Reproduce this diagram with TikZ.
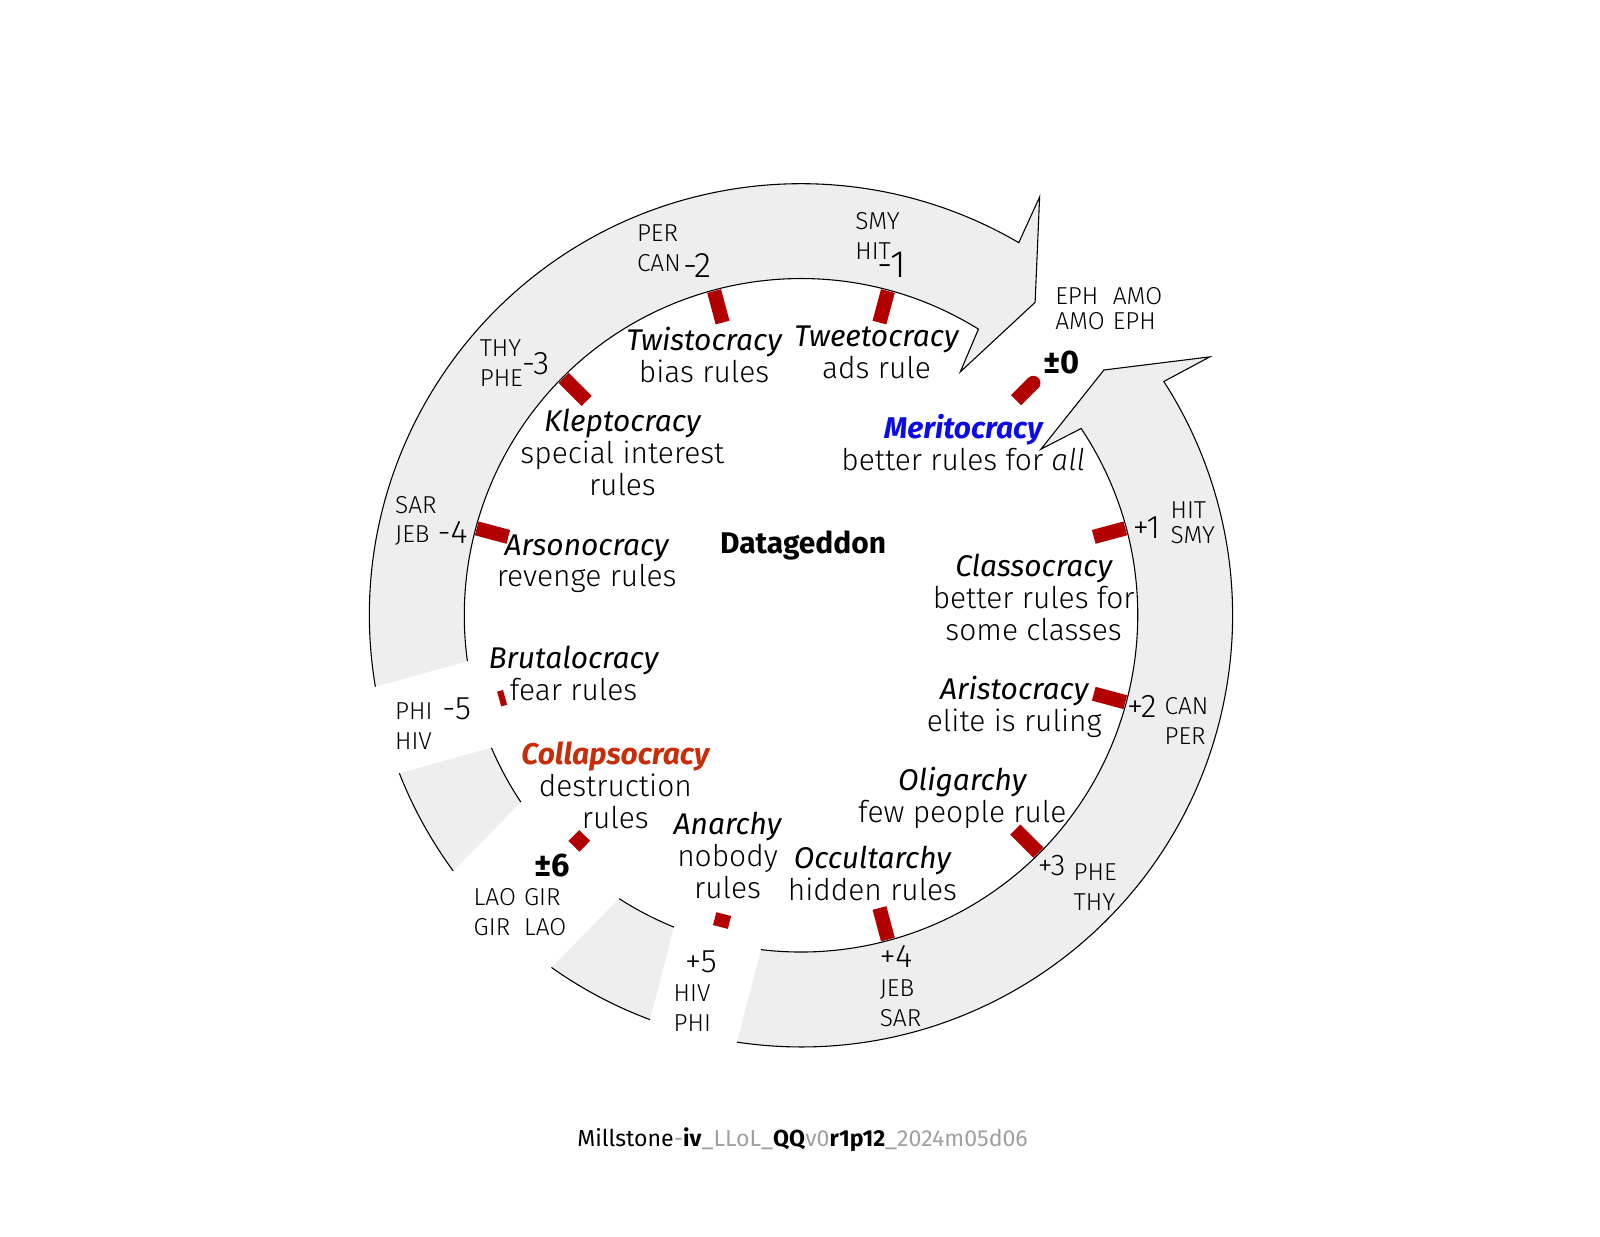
\documentclass[tikz,border=0pt]{standalone}
\usepackage{fontspec}
\setmainfont{Fira Sans}[UprightFont=* Light, ItalicFont=* Light Italic, BoldFont=* Bold, BoldItalicFont=* Bold Italic]
\newfontfamily\firareg{Fira Sans}
\newcommand{\nm}[1]{{\firareg\itshape #1}}
\definecolor{ringfill}{RGB}{238,238,238}
\definecolor{tickred}{RGB}{178,0,0}
\definecolor{meritblue}{RGB}{10,10,235}
\definecolor{collred}{RGB}{200,45,10}
\definecolor{footgrey}{RGB}{160,160,160}
\begin{document}
\begin{tikzpicture}[x=0.75pt,y=0.75pt,
  lbl/.style={align=center, font=\fontsize{22}{23.5}\selectfont, inner sep=0pt},
  code/.style={align=left, font=\fontsize{18}{22}\selectfont, inner sep=0pt, anchor=west},
  num/.style={font=\fontsize{24}{24}\selectfont, inner sep=0pt},
  pm/.style={font=\bfseries\fontsize{24}{24}\selectfont, inner sep=0pt},
  tickmark/.style={draw=tickred, line width=10.5pt},
  smalltick/.style={draw=tickred, line width=11.25pt},
  ringline/.style={draw=black, line width=0.8pt},
  ringbody/.style={fill=ringfill}]
\useasboundingbox (-785,-609) rectangle (783,603);

% top arrow piece
\path[ringbody] (189.53:423) arc[start angle=189.53, end angle=59.7, radius=423] -- (60.3:472) -- (53.2:383) -- (56.8:285) -- (58.2:330) arc[start angle=58.2, end angle=187.84, radius=330] -- cycle;
\draw[ringline] (189.53:423) arc[start angle=189.53, end angle=59.7, radius=423] -- (60.3:472) -- (53.2:383) -- (56.8:285) -- (58.2:330) arc[start angle=58.2, end angle=187.84, radius=330];

% right arrow piece
\path[ringbody] (-98.53:423) arc[start angle=-98.53, end angle=32.8, radius=423] -- (32.3:474) -- (39:382) -- (34.7:286) -- (33.7:330) arc[start angle=33.7, end angle=-96.84, radius=330] -- cycle;
\draw[ringline] (-98.53:423) arc[start angle=-98.53, end angle=32.8, radius=423] -- (32.3:474) -- (39:382) -- (34.7:286) -- (33.7:330) arc[start angle=33.7, end angle=-96.84, radius=330];

% fragment 1
\path[ringbody] (201.47:423) arc[start angle=201.47, end angle=216.32, radius=423] -- (213.7:330) arc[start angle=213.7, end angle=203.16, radius=330] -- cycle;
\draw[ringline] (201.47:423) arc[start angle=201.47, end angle=216.32, radius=423];
\draw[ringline] (203.16:330) arc[start angle=203.16, end angle=213.7, radius=330];

% fragment 2
\path[ringbody] (234.68:423) arc[start angle=234.68, end angle=249.53, radius=423] -- (247.84:330) arc[start angle=247.84, end angle=237.3, radius=330] -- cycle;
\draw[ringline] (234.68:423) arc[start angle=234.68, end angle=249.53, radius=423];
\draw[ringline] (237.3:330) arc[start angle=237.3, end angle=247.84, radius=330];

% ticks
\foreach \a in {75,105,135,165,15,-15,-45,-75} \draw[tickmark] (\a:297) -- (\a:329);
\draw[tickmark] (45:298) -- (45:322);
\fill[tickred] (45:322) circle[radius=7];
\draw[smalltick] (195.5:301) -- (195.5:307);
\draw[smalltick] (225.5:302.5) -- (225.5:317.5);
\draw[smalltick] (255.5:302.5) -- (255.5:315.5);

% main labels
\node[lbl] (tw) at (-95,255) {\nm{Twistocracy}\\bias rules};
\node[lbl] (twe) at (74,258) {\nm{Tweetocracy}\\ads rule};
\node[lbl] (kl) at (-175,159.5) {\nm{Kleptocracy}\\special interest\\rules};
\node[lbl] (me) at (159,169) {{\color{meritblue}\bfseries\itshape Meritocracy}\\better rules for \textit{all}};
\node[lbl] (ar) at (-210,50.5) {\nm{Arsonocracy}\\revenge rules};
\node[lbl, font=\bfseries\fontsize{22}{23.5}\selectfont] (dg) at (2,68) {Datageddon};
\node[lbl] (cl) at (228,17.5) {\nm{Classocracy}\\better rules for\\some classes};
\node[lbl] (br) at (-223,-57) {\nm{Brutalocracy}\\fear rules};
\node[lbl] (ari) at (209,-89.5) {\nm{Aristocracy}\\elite is ruling};
\node[lbl] (co) at (-182,-166.5) {{\color{collred}\bfseries\itshape Collapsocracy}\\destruction\\rules};
\node[lbl] (ol) at (158,-179) {\nm{Oligarchy}\\few people rule};
\node[lbl] (an) at (-72,-235) {\nm{Anarchy}\\nobody\\rules};
\node[lbl] (oc) at (70,-252.5) {\nm{Occultarchy}\\hidden rules};

% position labels
\node[code] (c2) at (-161,360) {PER\\CAN};
\node[num, font=\fontsize{26}{26}\selectfont] (n2) at (-101.5,343) {-2};
\node[code] (c1) at (53,372) {SMY\\HIT};
\node[num, font=\fontsize{28}{28}\selectfont] (n1) at (89,343) {-1};
\node[code] (c3) at (-315,247.5) {THY\\PHE};
\node[num] (n3) at (-260,247) {-3};
\node[code] (c4) at (-398,92.5) {SAR\\JEB};
\node[num] (n4) at (-341.5,81) {-4};
\node[code] (c5) at (-398,-109) {PHI\\HIV};
\node[num] (n5) at (-337.5,-92) {-5};
\node[code] (c6) at (-321,-293.5) {\begin{tabular}{@{}l@{\hspace{6pt}}l@{}}LAO&GIR\\GIR&LAO\end{tabular}};
\node[pm] (n6) at (-244,-245) {±6};
\node[num] (p5) at (-98,-340) {+5};
\node[code] (d5) at (-125,-385) {HIV\\PHI};
\node[num] (p4) at (93,-334) {+4};
\node[code] (d4) at (77,-380) {JEB\\SAR};
\node[num, font=\fontsize{22}{22}\selectfont] (p3) at (245.5,-245) {+3};
\node[code] (d3) at (267,-266.5) {PHE\\THY};
\node[num] (p2) at (334,-89) {+2};
\node[code] (d2) at (356,-103.5) {CAN\\PER};
\node[num] (p1) at (338.5,86) {+1};
\node[code, font=\fontsize{18}{18.5}\selectfont] (d1) at (362,91) {HIT\\SMY};
\node[pm] (n0) at (255,248) {±0};
\node[code] (c0) at (249,297.5) {\renewcommand{\arraystretch}{0.85}\begin{tabular}{@{}l@{\hspace{6pt}}l@{}}EPH&AMO\\AMO&EPH\end{tabular}};

% footer
\node[inner sep=0pt, font=\firareg\fontsize{17}{17}\selectfont] (foot) at (1.5,-514) {Millstone{\color{footgrey}-}\textbf{iv}{\color{footgrey}\_LLoL\_}\textbf{QQ}{\color{footgrey}v0}\textbf{r1p12}{\color{footgrey}\_2024m05d06}};
\end{tikzpicture}
\end{document}
